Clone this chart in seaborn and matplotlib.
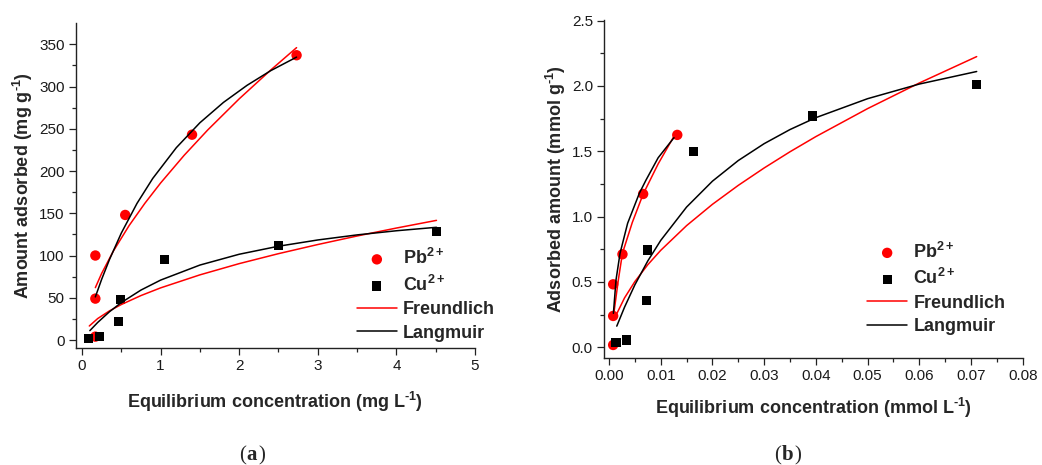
import numpy as np
import pandas as pd
import matplotlib
matplotlib.use("Agg")
import matplotlib.pyplot as plt
from matplotlib.ticker import MultipleLocator, FormatStrFormatter
from matplotlib.offsetbox import TextArea, HPacker, AnnotationBbox
import seaborn as sns

# ---------------- data ----------------
# Panel (a): mg units
pb_a_x = [0.17, 0.17, 0.17, 0.55, 1.40, 2.73]
pb_a_y = [4, 49, 100, 148, 243, 337]
cu_a_x = [0.08, 0.22, 0.46, 0.49, 1.05, 2.50, 4.51]
cu_a_y = [2, 4, 22, 48, 95, 112, 128]

pb_a_fr_x = [0.17, 0.25, 0.40, 0.60, 0.80, 1.00, 1.30, 1.60, 2.00, 2.40, 2.73]
pb_a_fr_y = [62.0, 78.8, 105.4, 135.5, 161.8, 185.8, 218.6, 248.6, 285.4, 319.4, 346.0]
pb_a_la_x = [0.17, 0.25, 0.35, 0.50, 0.70, 0.90, 1.20, 1.50, 1.80, 2.10, 2.40, 2.73]
pb_a_la_y = [51.0, 71.8, 95.3, 126.5, 161.7, 191.2, 227.6, 257.1, 281.2, 301.4, 318.7, 334.8]
cu_a_fr_x = [0.093, 0.20, 0.35, 0.50, 0.75, 1.00, 1.50, 2.00, 2.50, 3.00, 3.50, 4.00, 4.51]
cu_a_fr_y = [16.6, 25.4, 34.5, 42.0, 52.6, 61.7, 77.1, 90.4, 102.2, 113.0, 123.1, 132.5, 141.6]
cu_a_la_x = [0.10, 0.20, 0.35, 0.50, 0.75, 1.00, 1.50, 2.00, 2.50, 3.00, 3.50, 4.00, 4.51]
cu_a_la_y = [11.1, 20.8, 33.5, 44.3, 59.1, 70.9, 88.7, 101.5, 111.0, 118.4, 124.4, 129.3, 133.4]

# Panel (b): mmol units
pb_b_x = [0.0008, 0.0008, 0.0008, 0.0026, 0.0066, 0.0132]
pb_b_y = [0.018, 0.24, 0.482, 0.712, 1.173, 1.625]
cu_b_x = [0.00135, 0.0034, 0.0072, 0.0075, 0.0164, 0.0393, 0.0711]
cu_b_y = [0.036, 0.056, 0.357, 0.745, 1.497, 1.770, 2.008]

pb_b_fr_x = [0.0008, 0.0018, 0.0026, 0.0045, 0.0066, 0.0095, 0.0127]
pb_b_fr_y = [0.22, 0.515, 0.72, 0.955, 1.172, 1.403, 1.624]
pb_b_la_x = [0.00085, 0.00135, 0.00213, 0.0036, 0.00586, 0.00716, 0.0095, 0.01257]
pb_b_la_y = [0.26, 0.515, 0.719, 0.949, 1.178, 1.28, 1.45, 1.604]
cu_b_fr_x = [0.0015, 0.003, 0.005, 0.0075, 0.010, 0.015, 0.020, 0.025, 0.030, 0.035, 0.040, 0.050, 0.060, 0.0711]
cu_b_fr_y = [0.257, 0.378, 0.503, 0.632, 0.742, 0.931, 1.094, 1.239, 1.372, 1.496, 1.612, 1.826, 2.022, 2.224]
cu_b_la_x = [0.0015, 0.003, 0.005, 0.0075, 0.010, 0.015, 0.020, 0.025, 0.030, 0.035, 0.040, 0.050, 0.060, 0.0711]
cu_b_la_y = [0.162, 0.307, 0.478, 0.661, 0.818, 1.073, 1.271, 1.429, 1.558, 1.666, 1.757, 1.902, 2.014, 2.110]

labels_legend = ["Pb$^{2+}$", "Cu$^{2+}$", "Freundlich", "Langmuir"]

# ---------------- style ----------------
sns.set_style("ticks")
plt.rcParams["font.family"] = ["Liberation Sans", "DejaVu Sans"]
plt.rcParams["mathtext.fontset"] = "custom"
plt.rcParams["mathtext.rm"] = "Liberation Sans:bold"
plt.rcParams["mathtext.it"] = "Liberation Sans:bold"
plt.rcParams["mathtext.bf"] = "Liberation Sans:bold"

W, H = 1042, 465
fig = plt.figure(figsize=(W / 100, H / 100), dpi=100)
fig.patch.set_facecolor("white")


def px_axes(left, right, top, bottom):
    return fig.add_axes([left / W, 1 - bottom / H, (right - left) / W, (bottom - top) / H])


ax_a = px_axes(75.7, 475.0, 23.3, 348.3)
ax_b = px_axes(604.0, 1022.7, 20.0, 358.3)

RED = "#ff0000"
MS_C = 56
MS_S = 44


def draw(ax, pbx, pby, cux, cuy, curves):
    sns.scatterplot(x=pbx, y=pby, ax=ax, color=RED, marker="o", s=MS_C,
                    edgecolor="none", linewidth=0, label=labels_legend[0], zorder=1)
    sns.scatterplot(x=cux, y=cuy, ax=ax, color="black", marker="s", s=MS_S,
                    edgecolor="none", linewidth=0, label=labels_legend[1], zorder=1)
    (fx1, fy1), (lx1, ly1), (fx2, fy2), (lx2, ly2) = curves
    sns.lineplot(x=fx1, y=fy1, ax=ax, color=RED, lw=1.1, label=labels_legend[2],
                 sort=False, estimator=None, zorder=3)
    sns.lineplot(x=lx1, y=ly1, ax=ax, color="black", lw=1.1, label=labels_legend[3],
                 sort=False, estimator=None, zorder=3)
    sns.lineplot(x=fx2, y=fy2, ax=ax, color=RED, lw=1.1, legend=False,
                 sort=False, estimator=None, zorder=3)
    sns.lineplot(x=lx2, y=ly2, ax=ax, color="black", lw=1.1, legend=False,
                 sort=False, estimator=None, zorder=3)


draw(ax_a, pb_a_x, pb_a_y, cu_a_x, cu_a_y,
     [(pb_a_fr_x, pb_a_fr_y), (pb_a_la_x, pb_a_la_y),
      (cu_a_fr_x, cu_a_fr_y), (cu_a_la_x, cu_a_la_y)])
draw(ax_b, pb_b_x, pb_b_y, cu_b_x, cu_b_y,
     [(pb_b_fr_x, pb_b_fr_y), (pb_b_la_x, pb_b_la_y),
      (cu_b_fr_x, cu_b_fr_y), (cu_b_la_x, cu_b_la_y)])

# ---------------- axes ----------------
ax_a.set_xlim(-0.08, 5.0)
ax_a.set_ylim(-9.8, 374.8)
ax_a.xaxis.set_major_locator(MultipleLocator(1))
ax_a.xaxis.set_minor_locator(MultipleLocator(0.5))
ax_a.yaxis.set_major_locator(MultipleLocator(50))
ax_a.yaxis.set_minor_locator(MultipleLocator(25))

ax_b.set_xlim(-0.00097, 0.08)
ax_b.set_ylim(-0.084, 2.504)
ax_b.xaxis.set_major_locator(MultipleLocator(0.01))
ax_b.xaxis.set_minor_locator(MultipleLocator(0.005))
ax_b.xaxis.set_major_formatter(FormatStrFormatter("%.2f"))
ax_b.yaxis.set_major_locator(MultipleLocator(0.5))
ax_b.yaxis.set_minor_locator(MultipleLocator(0.25))
ax_b.yaxis.set_major_formatter(FormatStrFormatter("%.1f"))

for ax in (ax_a, ax_b):
    ax.set_facecolor("white")
    for s in ("top", "right"):
        ax.spines[s].set_visible(False)
    for s in ("left", "bottom"):
        ax.spines[s].set_linewidth(1.0)
        ax.spines[s].set_color("#222222")
    ax.tick_params(which="major", direction="out", length=5, width=0.9,
                   labelsize=11, pad=3, color="#222222", labelcolor="#1a1a1a")
    ax.tick_params(which="minor", direction="out", length=2.8, width=0.9, color="#222222")
    ax.grid(False)

SUP = r"$^{\text{-}1}$"
ax_a.set_xlabel("Equilibrium concentration (mg L" + SUP + ")", fontsize=13,
                fontweight="bold", labelpad=12)
ax_a.set_ylabel("Amount adsorbed (mg g" + SUP + ")", fontsize=13,
                fontweight="bold", labelpad=3)
ax_b.set_xlabel("Equilibrium concentration (mmol L" + SUP + ")", fontsize=13,
                fontweight="bold", labelpad=9)
ax_b.set_ylabel("Adsorbed amount (mmol g" + SUP + ")", fontsize=13,
                fontweight="bold", labelpad=3)


def legend(ax, left_px, top_px):
    h, l = ax.get_legend_handles_labels()
    order = [l.index(x) for x in labels_legend]
    ax.legend([h[i] for i in order], [l[i] for i in order],
              loc="upper left", bbox_to_anchor=(left_px / W, 1 - top_px / H),
              bbox_transform=fig.transFigure, frameon=False,
              prop={"family": "Liberation Sans", "weight": "bold", "size": 13},
              handlelength=2.2, handletextpad=0.35, labelspacing=0.36,
              borderpad=0, borderaxespad=0, markerscale=1.0)


legend(ax_a, 357, 248)
legend(ax_b, 867.3, 241.5)

# ---------------- panel tags ----------------
def tag(letter, cx, cy):
    parts = [TextArea("(", textprops=dict(family="Liberation Serif", size=15)),
             TextArea(letter, textprops=dict(family="Liberation Serif", size=15, weight="bold")),
             TextArea(")", textprops=dict(family="Liberation Serif", size=15))]
    box = HPacker(children=parts, sep=0.5, pad=0, align="baseline")
    ab = AnnotationBbox(box, (cx / W, 1 - cy / H), xycoords="figure fraction",
                        frameon=False, box_alignment=(0.5, 0.5))
    fig.add_artist(ab)


tag("a", 252, 455)
tag("b", 788, 455)

fig.savefig("out.png", dpi=100, facecolor="white")
